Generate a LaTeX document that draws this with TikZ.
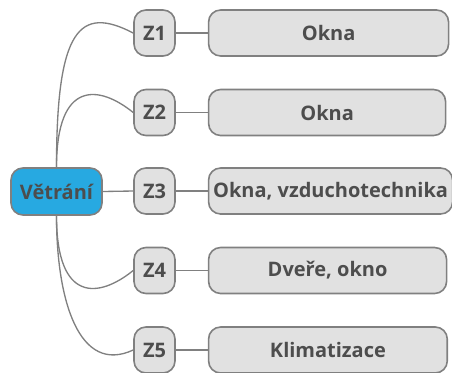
\documentclass[tikz,border=0pt]{standalone}
\usepackage{fontspec}
\setmainfont{Open Sans}
\usetikzlibrary{
  positioning,
}
\definecolor{rootblue}{HTML}{27A9E1}
\definecolor{boxgray}{HTML}{E1E1E1}
\definecolor{edgegray}{HTML}{808080}
\definecolor{textgray}{HTML}{4D4D4D}
\tikzset{
  topic/.style={draw=edgegray, line width=1.2pt, rounded corners=9pt,
    inner sep=0pt, text=textgray, font=\fontsize{15}{18}\selectfont\bfseries},
  central/.style={topic, fill=rootblue, minimum width=68.25pt, minimum height=35.25pt},
  zone/.style={topic, fill=boxgray, minimum width=30.75pt, minimum height=34.5pt},
  leaf/.style={topic, fill=boxgray, minimum height=34.5pt},
  branch/.style={draw=edgegray, line width=1pt},
}

\begin{document}
\begin{tikzpicture}[x=0.75pt, y=-0.75pt]
      \useasboundingbox (0,0) rectangle (452,372);
      \node[central] (root) at (56.5,191.5) {Větrání};
      \foreach \i/\y/\w/\txt in {1/33/180pt/Okna, 2/112.5/177.75pt/Okna,
        3/191/183pt/{Okna, vzduchotechnika}, 4/270.5/178.5pt/{Dveře, okno},
        5/350/179pt/Klimatizace}
      {
        \node[zone] (z\i) at (154.5,\y) {Z\i};
        \node[leaf, minimum width=\w, right=24pt of z\i] (l\i) {\txt};
        \draw[branch] (z\i) -- (l\i);
      }
      % curved branches out of the central topic
      \draw[branch] (root.north) .. controls +(0,-138) and +(-54,-28) .. (z1.west);
      \draw[branch] (root.north) .. controls +(0,-88) and +(-34,-27.5) .. (z2.west);
      \draw[branch] (root.east) -- (z3.west);
      \draw[branch] (root.south) .. controls +(0,88) and +(-34,27.5) .. (z4.west);
      \draw[branch] (root.south) .. controls +(0,85) and +(-54,25) .. (z5.west);
    \end{tikzpicture}
\end{document}
